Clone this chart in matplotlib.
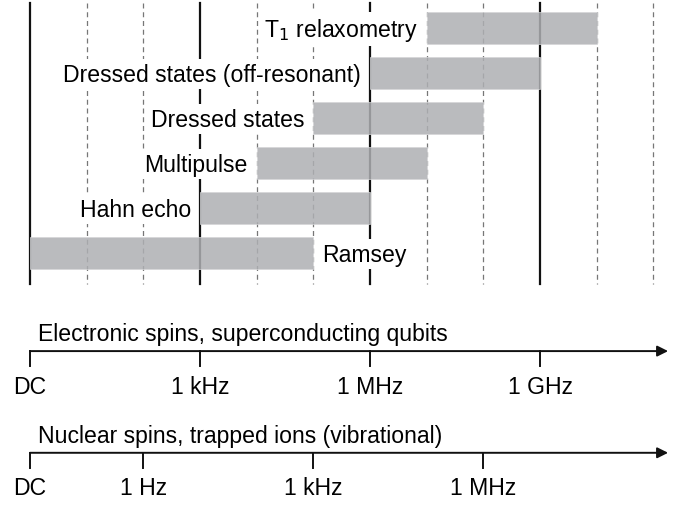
import numpy as np
import matplotlib.pyplot as plt

plt.rcParams['font.family'] = ['Liberation Sans', 'DejaVu Sans']

# techniques, frequency range in decades (0 = DC, 3 = 1 kHz, 6 = 1 MHz, 9 = 1 GHz)
methods = ['T$_1$ relaxometry', 'Dressed states (off-resonant)', 'Dressed states',
           'Multipulse', 'Hahn echo', 'Ramsey']
start_dec = [7, 6, 5, 4, 3, 0]
end_dec = [10, 9, 8, 7, 6, 5]

grid_dec = np.arange(0, 12)
major_dec = [0, 3, 6, 9]

elec_title = 'Electronic spins, superconducting qubits'
elec_ticks = [0, 3, 6, 9]
elec_labels = ['DC', '1 kHz', '1 MHz', '1 GHz']

nuc_title = 'Nuclear spins, trapped ions (vibrational)'
nuc_ticks = [0, 2, 5, 8]
nuc_labels = ['DC', '1 Hz', '1 kHz', '1 MHz']

fig = plt.figure(figsize=(6.8, 5.06), dpi=100)
ax = fig.add_axes([0, 0, 1, 1])
ax.set_xlim(-0.529, 11.47)
ax.set_ylim(10.6, -0.644)
ax.axis('off')

fs = 16.6
rows = np.arange(len(methods))

# vertical grid
for d in grid_dec:
    if d in major_dec:
        ax.plot([d, d], [-0.556, 5.69], color='#111111', lw=1.6, zorder=1)
    else:
        ax.plot([d, d], [-0.556, 5.69], color='#777777', lw=0.9,
                ls=(0, (4, 3)), zorder=1)

# bars
widths = np.array(end_dec) - np.array(start_dec)
ax.barh(rows, widths, left=start_dec, height=0.71, color='#aeafb3',
        alpha=0.85, edgecolor='#d5d6d8', lw=0.6, zorder=2)

bb = dict(facecolor='white', edgecolor='none', pad=2.5)
for i, name in enumerate(methods):
    if name == 'Ramsey':
        ax.text(end_dec[i] + 0.15, rows[i] + 0.03, name, ha='left', va='center',
                fontsize=fs, bbox=bb, zorder=3)
    else:
        ax.text(start_dec[i] - 0.16, rows[i] + 0.03, name, ha='right', va='center',
                fontsize=fs, bbox=bb, zorder=3)

# frequency axes
def freq_axis(y, title, ticks, labels):
    ax.annotate('', xy=(11.26, y), xytext=(0, y),
                arrowprops=dict(arrowstyle='-|>', color='#111111', lw=1.4,
                                mutation_scale=16, shrinkA=0, shrinkB=0))
    for t, lab in zip(ticks, labels):
        ax.plot([t, t], [y, y + 0.333], color='#111111', lw=1.4)
        ax.text(t, y + 0.78, lab, ha='center', va='center', fontsize=fs)
    ax.text(0.14, y - 0.25, title, ha='left', va='baseline', fontsize=fs)

freq_axis(7.18, elec_title, elec_ticks, elec_labels)
freq_axis(9.44, nuc_title, nuc_ticks, nuc_labels)

fig.savefig('out.png', dpi=100)
